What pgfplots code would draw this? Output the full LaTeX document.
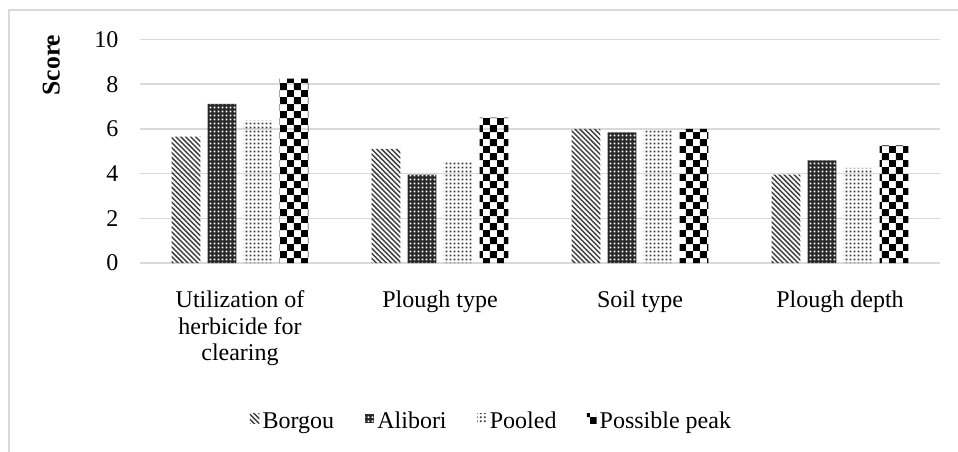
\documentclass[border=0pt]{standalone}
\usepackage{fontspec}
\setmainfont{Liberation Serif}
\usepackage{pgfplots}
\pgfplotsset{compat=1.18}
\usetikzlibrary{patterns}
\definecolor{gridgray}{HTML}{D9D9D9}

% hatch patterns like the office chart
\pgfdeclarepatternformonly{nwdiag}{\pgfqpoint{-1pt}{-1pt}}{\pgfqpoint{4.1pt}{4.1pt}}{\pgfqpoint{3.1pt}{3.1pt}}{%
  \pgfsetlinewidth{0.9pt}%
  \pgfpathmoveto{\pgfqpoint{0pt}{3.1pt}}%
  \pgfpathlineto{\pgfqpoint{3.2pt}{-0.1pt}}%
  \pgfusepath{stroke}}
\pgfdeclarepatternformonly{dotgrid}{\pgfqpoint{0pt}{0pt}}{\pgfqpoint{2.25pt}{2.25pt}}{\pgfqpoint{2.25pt}{2.25pt}}{%
  \pgfpathrectangle{\pgfqpoint{0.5pt}{0.5pt}}{\pgfqpoint{1.2pt}{1.2pt}}%
  \pgfusepath{fill}}
\pgfdeclarepatternformonly{bigchecker}{\pgfqpoint{0pt}{0pt}}{\pgfqpoint{9pt}{9pt}}{\pgfqpoint{9pt}{9pt}}{%
  \pgfpathrectangle{\pgfqpoint{0pt}{0pt}}{\pgfqpoint{4.5pt}{4.5pt}}%
  \pgfpathrectangle{\pgfqpoint{4.5pt}{4.5pt}}{\pgfqpoint{4.5pt}{4.5pt}}%
  \pgfusepath{fill}}

\begin{document}
\begin{tikzpicture}
  \begin{axis}[
    at={(0,0)}, anchor=south west,
    scale only axis,
    width=500pt, height=139.7pt,
    ybar=4.4pt, bar width=18.1pt,
    xmin=-0.5, xmax=3.5,
    ymin=0, ymax=10, ytick={0,2,...,10},
    xtick=data,
    xticklabels={Utilization of\\herbicide for\\clearing, Plough type, Soil type, Plough depth},
    axis line style={draw=none},
    major tick length=0pt,
    ymajorgrids,
    grid style={gridgray, line width=0.9pt},
    tick label style={font=\fontsize{15}{16.5}\selectfont},
    xticklabel style={align=center, yshift=-14pt},
    yticklabel style={xshift=-10pt},
    /pgf/number format/assume math mode=true,
    ylabel={\textbf{Score}},
    ylabel style={at={(axis description cs:-0.111,0.886)}, anchor=center, font=\fontsize{16}{18}\selectfont},
    legend style={
      at={(axis description cs:0.44,-0.72)}, anchor=center,
      draw=none, legend columns=4,
      font=\fontsize{15}{16.5}\selectfont,
      /tikz/every even column/.append style={column sep=17pt, text height=0.75em, text depth=0.25em}
    },
    legend image code/.code={\path[#1] (0pt,0.4pt) rectangle (6pt,6.4pt);},
  ]
    \addplot[draw=none, pattern=nwdiag, pattern color=black!75] coordinates {
      (0, 5.66) (1, 5.11) (2, 6.00) (3, 3.95)
    };
    \addlegendentry{Borgou}
    \addplot[draw=none, fill=black!85, postaction={pattern=dotgrid, pattern color=white}] coordinates {
      (0, 7.12) (1, 3.95) (2, 5.84) (3, 4.59)
    };
    \addlegendentry{Alibori}
    \addplot[draw=none, pattern=dotgrid, pattern color=black!78] coordinates {
      (0, 6.38) (1, 4.56) (2, 5.93) (3, 4.26)
    };
    \addlegendentry{Pooled}
    \addplot[draw=none, pattern=bigchecker, pattern color=black] coordinates {
      (0, 8.25) (1, 6.50) (2, 6.00) (3, 5.26)
    };
    \addlegendentry{Possible peak}
  \end{axis}
  % chart area border (only left and top fall inside the picture)
  \draw[gridgray, line width=1.3pt] (-81.9pt,-130pt) -- (-81.9pt,158.1pt) -- (530pt,158.1pt);
  \pgfresetboundingbox
  \path[use as bounding box] (-87.5pt,-118.1pt) rectangle (511.25pt,164.4pt);
\end{tikzpicture}
\end{document}
